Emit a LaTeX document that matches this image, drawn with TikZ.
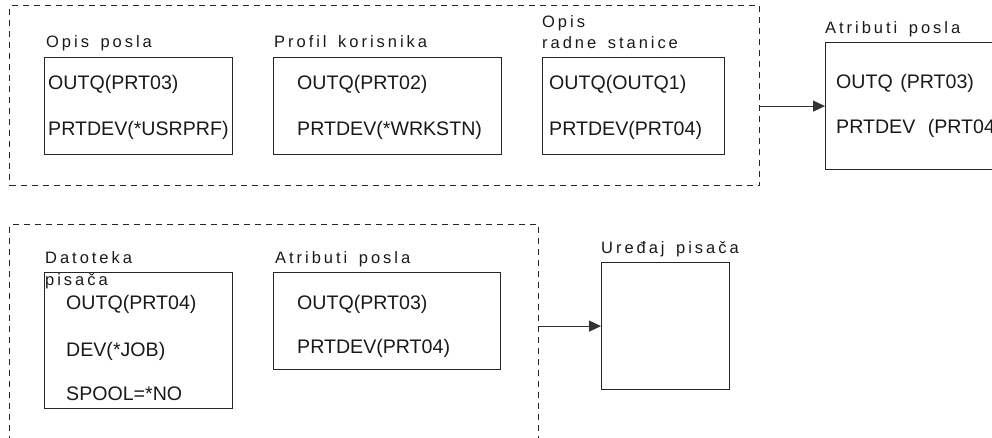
\documentclass[tikz,border=0pt]{standalone}
\usepackage{fontspec}
\setmainfont{Liberation Sans}
\newfontfamily\lblfont[LetterSpace=18]{Liberation Sans}
\usetikzlibrary{arrows.meta}
\begin{document}
\begin{tikzpicture}[x=1pt,y=-1pt,
  frame/.style={draw=black!85, line width=1.2pt, inner sep=0pt, anchor=north west},
  group/.style={draw=black!85, line width=1pt, dash pattern=on 6pt off 5pt, inner sep=0pt, anchor=north west},
  lbl/.style={font=\lblfont\fontsize{16.5}{18}\selectfont, inner sep=0pt, anchor=base west, text=black!90},
  val/.style={font=\fontsize{19.6}{22}\selectfont, inner sep=0pt, anchor=base west, text=black!90},
  arr/.style={draw=black!80, line width=1pt, -{Triangle[length=12pt,width=11pt]}}]
\useasboundingbox (0,0) rectangle (992,437);
\clip (0,0) rectangle (992,437);

% dashed groups
\node[group, minimum width=750pt, minimum height=180pt] (g1) at (9,5) {};
\node[group, minimum width=529pt, minimum height=260pt] (g2) at (9,224) {};

% top row boxes
\node[frame, minimum width=188pt, minimum height=97pt] (b1) at (44,57) {};
\node[frame, minimum width=228pt, minimum height=97pt] (b2) at (273,57) {};
\node[frame, minimum width=182pt, minimum height=97pt] (b3) at (542,57) {};
\node[frame, minimum width=250pt, minimum height=127pt] (b4) at (825,42) {};

% bottom row boxes
\node[frame, minimum width=188pt, minimum height=136pt] (b5) at (44,272) {};
\node[frame, minimum width=227pt, minimum height=97pt] (b6) at (273,272) {};
\node[frame, minimum width=128pt, minimum height=127pt] (b7) at (601,262) {};

% titles
\node[lbl] (t1) at (46,47) {Opis\hspace{4pt} posla};
\node[lbl] (t2) at (274,47) {Profil\hspace{4pt} korisnika};
\node[lbl] (t3a) at (542,27) {Opis};
\node[lbl] (t3b) at (542,48) {radne\hspace{4pt} stanice};
\node[lbl] (t4) at (825,33) {Atributi\hspace{4pt} posla};
\node[lbl] (t5a) at (45,263) {Datoteka};
\node[lbl] (t5b) at (45,285) {pisača};
\node[lbl] (t6) at (275,263) {Atributi\hspace{4pt} posla};
\node[lbl] (t7) at (601,253) {Uređaj\hspace{4pt} pisača};

% values
\node[val] (v1a) at (48,89.5) {OUTQ(PRT03)};
\node[val] (v1b) at (48,135) {PRTDEV(*USRPRF)};
\node[val] (v2a) at (297,89.5) {OUTQ(PRT02)};
\node[val] (v2b) at (297,135) {PRTDEV(*WRKSTN)};
\node[val] (v3a) at (549,89.5) {OUTQ(OUTQ1)};
\node[val] (v3b) at (549,135) {PRTDEV(PRT04)};
\node[val] (v4a) at (836,88.5) {OUTQ\hspace{2pt} (PRT03)};
\node[val] (v4b) at (836,133) {PRTDEV\hspace{7pt} (PRT04)};
\node[val] (v5a) at (66,309) {OUTQ(PRT04)};
\node[val] (v5b) at (66,356) {DEV(*JOB)};
\node[val] (v5c) at (66,400) {SPOOL=*NO};
\node[val] (v6a) at (297,309) {OUTQ(PRT03)};
\node[val] (v6b) at (297,353) {PRTDEV(PRT04)};

% connectors
\draw[arr] (g1.east |- b4.west) -- (b4.west);
\draw[arr] (g2.east |- b7.west) -- (b7.west);
\end{tikzpicture}
\end{document}
